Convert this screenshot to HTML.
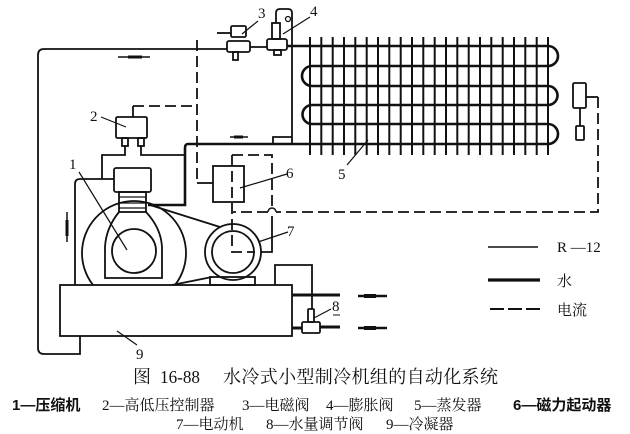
<!DOCTYPE html>
<html><head><meta charset="utf-8">
<style>
html,body{margin:0;padding:0;background:#fff;}
svg{display:block;}
.l{fill:none;stroke:#111;stroke-width:1.8;}
.d{fill:none;stroke:#111;stroke-width:1.8;stroke-dasharray:11 5;}
.t{font-family:"Liberation Serif","Noto Serif CJK SC",serif;fill:#111;}
.c{font-family:"Liberation Serif","Noto Serif CJK SC",serif;fill:#111;}
.b{font-family:"Liberation Sans","Noto Sans CJK SC",sans-serif;fill:#111;font-weight:bold;}
</style></head>
<body>
<svg width="630" height="434" viewBox="0 0 630 434" xmlns="http://www.w3.org/2000/svg">
<rect width="630" height="434" fill="#fff"/>

<!-- outer left pipe -->
<path class="l" d="M227,49 H44 Q38,49 38,55 V348 Q38,354 44,354 H80 V336"/>
<!-- top arrow -->
<line x1="118" y1="57" x2="150" y2="57" stroke="#111" stroke-width="1.5"/>
<rect x="128" y="55.5" width="14" height="3" fill="#111"/>

<!-- valve 3 -->
<rect class="l" x="231" y="26" width="15" height="11" rx="1.5"/>
<line class="l" x1="217" y1="33" x2="231" y2="33"/>
<rect class="l" x="227" y="41" width="23" height="11" rx="2"/>
<rect class="l" x="233" y="52" width="5" height="8"/>
<line class="l" x1="250" y1="47" x2="267" y2="47"/>
<!-- valve 4 -->
<rect class="l" x="272" y="23" width="8" height="16"/>
<rect class="l" x="267" y="39" width="20" height="11" rx="2"/>
<rect class="l" x="274" y="50" width="7" height="5"/>
<path class="l" d="M276,23 V13 Q276,9 280,9 H288 Q292,9 292,13 V145"/>
<circle class="l" cx="288" cy="19" r="2.5" style="stroke-width:1.3"/>
<path class="l" d="M292,137 H273 V145"/>

<!-- labels 3,4 -->
<text class="t" x="258" y="18" font-size="15">3</text>
<line class="l" x1="258" y1="21" x2="242" y2="34" style="stroke-width:1.2"/>
<text class="t" x="310" y="16" font-size="15">4</text>
<line class="l" x1="310" y1="17" x2="283" y2="34" style="stroke-width:1.2"/>

<!-- evaporator serpentine -->
<path fill="none" stroke="#111" stroke-width="2.6" d="M287,46 H548 A10,10 0 0 1 548,66 H312 A10,10 0 0 0 312,86 H548 A9.5,9.5 0 0 1 548,105 H312 A9.5,9.5 0 0 0 312,124 H548 A10,10 0 0 1 548,144 H188 Q185,144 185,148 V205 H148"/>
<!-- fins -->
<g stroke="#111" stroke-width="2">
<line x1="310" y1="37" x2="310" y2="155"/><line x1="321.3" y1="37" x2="321.3" y2="155"/>
<line x1="332.7" y1="37" x2="332.7" y2="155"/><line x1="344" y1="37" x2="344" y2="155"/>
<line x1="355.3" y1="37" x2="355.3" y2="155"/><line x1="366.7" y1="37" x2="366.7" y2="155"/>
<line x1="378" y1="37" x2="378" y2="155"/><line x1="389.3" y1="37" x2="389.3" y2="155"/>
<line x1="400.7" y1="37" x2="400.7" y2="155"/><line x1="412" y1="37" x2="412" y2="155"/>
<line x1="423.3" y1="37" x2="423.3" y2="155"/><line x1="434.7" y1="37" x2="434.7" y2="155"/>
<line x1="446" y1="37" x2="446" y2="155"/><line x1="457.3" y1="37" x2="457.3" y2="155"/>
<line x1="468.7" y1="37" x2="468.7" y2="155"/><line x1="480" y1="37" x2="480" y2="155"/>
<line x1="491.3" y1="37" x2="491.3" y2="155"/><line x1="502.7" y1="37" x2="502.7" y2="155"/>
<line x1="514" y1="37" x2="514" y2="155"/><line x1="525.3" y1="37" x2="525.3" y2="155"/>
<line x1="536.7" y1="37" x2="536.7" y2="155"/><line x1="548" y1="37" x2="548" y2="155"/>
</g>
<text class="t" x="338" y="179" font-size="15">5</text>
<line class="l" x1="347" y1="165" x2="368" y2="140" style="stroke-width:1.2"/>

<!-- thermostat bulb right -->
<rect class="l" x="573" y="83" width="13" height="25" rx="1.5"/>
<line class="l" x1="580" y1="108" x2="580" y2="126"/>
<rect class="l" x="576" y="126" width="8" height="14" rx="1"/>
<line class="l" x1="586" y1="97" x2="598" y2="97"/>
<path class="d" d="M598,97 V212 H276"/>
<path class="l" d="M276,212 A4,4 0 0 0 268,212" style="stroke-width:1.5"/>
<path class="d" d="M268,212 H233"/>

<!-- arrow at 137 -->
<line x1="230" y1="137" x2="248" y2="137" stroke="#111" stroke-width="1.5"/>
<rect x="234" y="135.5" width="9" height="3" fill="#111"/>

<!-- dashed x=197 -->
<path class="d" d="M197,40 V183"/>
<line class="l" x1="197" y1="183" x2="213" y2="183"/>
<!-- controller 2 -->
<path class="d" d="M133,106 H197"/>
<line class="l" x1="133" y1="106" x2="133" y2="117"/>
<rect class="l" x="116" y="117" width="31" height="21" rx="1.5"/>
<rect class="l" x="122" y="138" width="6" height="8"/>
<rect class="l" x="138" y="138" width="6" height="8"/>
<path class="l" d="M125,146 V155 H102 V179"/>
<path class="l" d="M141,146 V155 H185"/>
<text class="t" x="90" y="121" font-size="15">2</text>
<line class="l" x1="101" y1="117" x2="126" y2="127" style="stroke-width:1.2"/>

<!-- box 6 -->
<rect class="l" x="213" y="166" width="31" height="36"/>
<path class="d" d="M232,155 H272 V210"/>
<path class="d" d="M232,155 V252 H255"/>
<path class="l" d="M272,216 V252 H261"/>
<text class="t" x="286" y="178" font-size="15">6</text>
<line class="l" x1="287" y1="174" x2="240" y2="188" style="stroke-width:1.2"/>

<!-- compressor -->
<path class="l" d="M114,179 H80 Q75,179 75,184 V285"/>
<rect class="l" x="114" y="168" width="37" height="24" rx="2"/>
<rect class="l" x="119" y="192" width="27" height="20"/>
<line class="l" x1="119" y1="197" x2="146" y2="197" style="stroke-width:1.3"/>
<line class="l" x1="119" y1="203" x2="146" y2="203" style="stroke-width:1.3"/>
<line class="l" x1="119" y1="208" x2="146" y2="208" style="stroke-width:1.3"/>
<path class="l" d="M93,285 A52,52 0 1 1 175,285"/>
<path class="l" d="M119,212 Q106,228 105,247 V278 H162 V247 Q161,228 146,212"/>
<circle class="l" cx="134" cy="251" r="22"/>
<text class="t" x="69" y="169" font-size="15">1</text>
<line class="l" x1="79" y1="172" x2="127" y2="250" style="stroke-width:1.2"/>
<!-- belt -->
<line class="l" x1="150" y1="205" x2="220" y2="227"/>
<line class="l" x1="172" y1="285" x2="212" y2="277"/>
<!-- motor -->
<circle class="l" cx="233" cy="252" r="28"/>
<circle class="l" cx="233" cy="252" r="21"/>
<rect class="l" x="210" y="277" width="45" height="8"/>
<text class="t" x="287" y="236" font-size="15">7</text>
<line class="l" x1="288" y1="232" x2="258" y2="242" style="stroke-width:1.2"/>

<!-- left arrow -->
<line x1="67" y1="212" x2="67" y2="242" stroke="#111" stroke-width="1.5"/>
<rect x="65.5" y="220" width="3" height="16" fill="#111"/>

<!-- condenser -->
<rect class="l" x="60" y="285" width="232" height="51"/>
<text class="t" x="136" y="359" font-size="15">9</text>
<line class="l" x1="117" y1="331" x2="137" y2="345" style="stroke-width:1.2"/>
<path class="l" d="M275,285 V265 H312 V309"/>
<!-- water pipes -->
<line x1="292" y1="295" x2="340" y2="295" stroke="#111" stroke-width="3"/>
<line x1="292" y1="328" x2="302" y2="328" stroke="#111" stroke-width="3"/>
<line x1="320" y1="327" x2="340" y2="327" stroke="#111" stroke-width="3"/>
<rect class="l" x="302" y="322" width="18" height="11" rx="1.5"/>
<rect class="l" x="308" y="309" width="6" height="13" rx="1"/>
<text class="t" x="332" y="311" font-size="15">8</text>
<line class="l" x1="333" y1="315" x2="340" y2="315" style="stroke-width:1"/>
<line class="l" x1="331" y1="309" x2="314" y2="318" style="stroke-width:1.2"/>
<line x1="358" y1="296" x2="387" y2="296" stroke="#111" stroke-width="2.5"/>
<rect x="364" y="294" width="12" height="4" fill="#111"/>
<line x1="358" y1="328" x2="387" y2="328" stroke="#111" stroke-width="2.5"/>
<rect x="364" y="326" width="12" height="4" fill="#111"/>

<!-- legend -->
<line x1="488" y1="247" x2="538" y2="247" stroke="#111" stroke-width="1.6"/>
<text class="t" x="557" y="252" font-size="15">R —12</text>
<line x1="488" y1="280" x2="540" y2="280" stroke="#111" stroke-width="3.2"/>
<text class="c" x="557" y="286" font-size="15">水</text>
<path d="M490,309 H540" stroke="#111" stroke-width="2" stroke-dasharray="14 4"/>
<text class="c" x="557" y="315" font-size="15">电流</text>

<!-- caption -->
<text class="c" x="133" y="383" font-size="18">图</text>
<text class="c" x="160" y="383" font-size="18" textLength="40" lengthAdjust="spacingAndGlyphs">16-88</text>
<text class="c" x="223" y="383" font-size="18" textLength="275" lengthAdjust="spacing">水冷式小型制冷机组的自动化系统</text>

<text class="b" x="12" y="410" font-size="15">1—压缩机</text>
<text class="c" x="102" y="410" font-size="15">2—高低压控制器</text>
<text class="c" x="242" y="410" font-size="15">3—电磁阀</text>
<text class="c" x="326" y="410" font-size="15">4—膨胀阀</text>
<text class="c" x="414" y="410" font-size="15">5—蒸发器</text>
<text class="b" x="513" y="410" font-size="15">6—磁力起动器</text>

<text class="c" x="176" y="429" font-size="15">7—电动机</text>
<text class="c" x="266" y="429" font-size="15">8—水量调节阀</text>
<text class="c" x="386" y="429" font-size="15">9—冷凝器</text>
</svg>
</body></html>
